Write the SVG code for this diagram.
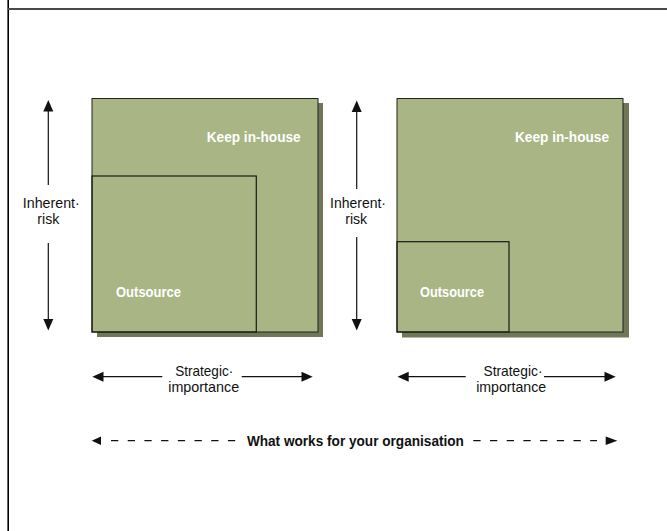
<svg xmlns="http://www.w3.org/2000/svg" width="667" height="531" viewBox="0 0 667 531">
  <defs>
    <style>
      .panel { fill: #a9b584; stroke: #222; stroke-width: 1; }
      .shadow { fill: #6f7756; }
      .zone { fill: none; stroke: #1a1a1a; stroke-width: 1.2; }
      .inlabel { font-family: "Liberation Sans", Arial, sans-serif; font-size: 15px; font-weight: bold; fill: #ffffff; }
      .axis { font-family: "Liberation Sans", Arial, sans-serif; font-size: 15px; fill: #111; text-anchor: middle; }
      .caption { font-family: "Liberation Sans", Arial, sans-serif; font-size: 15px; font-weight: bold; fill: #111; text-anchor: middle; }
      .shaft { stroke: #111; stroke-width: 1.2; fill: none; }
      .dash { stroke: #111; stroke-width: 1.2; fill: none; stroke-dasharray: 7.3 9.4; }
      .head { fill: #111; }
    </style>
  </defs>

  <!-- frame -->
  <line x1="8.2" y1="0" x2="8.2" y2="531" stroke="#000" stroke-width="1.6"/>
  <line x1="8" y1="9" x2="667" y2="9" stroke="#4a4a4a" stroke-width="2"/>

  <!-- left matrix -->
  <g id="matrix-left">
    <rect class="shadow" x="97" y="103" width="226" height="234"/>
    <rect class="panel" x="92" y="98.5" width="226" height="233.5"/>
    <text class="inlabel" x="206.7" y="142.3" textLength="94" lengthAdjust="spacingAndGlyphs">Keep in-house</text>
  </g>
  <g id="outsource-left">
    <rect class="zone" x="92" y="176" width="164.3" height="156"/>
    <text class="inlabel" x="116" y="297.3" textLength="65" lengthAdjust="spacingAndGlyphs">Outsource</text>
  </g>

  <!-- right matrix -->
  <g id="matrix-right">
    <rect class="shadow" x="402" y="103" width="227" height="234.5"/>
    <rect class="panel" x="397" y="98.5" width="226" height="233.5"/>
    <text class="inlabel" x="515" y="142.3" textLength="94" lengthAdjust="spacingAndGlyphs">Keep in-house</text>
  </g>
  <g id="outsource-right">
    <rect class="zone" x="397" y="241.7" width="112" height="90.3"/>
    <text class="inlabel" x="420" y="297.3" textLength="64" lengthAdjust="spacingAndGlyphs">Outsource</text>
  </g>

  <!-- axes and arrows -->
  <g id="connectors">
    <!-- left vertical: inherent risk -->
    <line class="shaft" x1="48.3" y1="110" x2="48.3" y2="185"/>
    <line class="shaft" x1="48.3" y1="243" x2="48.3" y2="320"/>
    <polygon class="head" points="48.3,100 43.3,111.5 53.3,111.5"/>
    <polygon class="head" points="48.3,330.5 43.3,319 53.3,319"/>

    <!-- right vertical: inherent risk -->
    <line class="shaft" x1="356.7" y1="110" x2="356.7" y2="189"/>
    <line class="shaft" x1="356.7" y1="237" x2="356.7" y2="320"/>
    <polygon class="head" points="356.7,100.5 351.7,112 361.7,112"/>
    <polygon class="head" points="356.7,330.5 351.7,319 361.7,319"/>

    <!-- left horizontal: strategic importance -->
    <line class="shaft" x1="102" y1="376.7" x2="162.3" y2="376.7"/>
    <line class="shaft" x1="241.7" y1="376.7" x2="303" y2="376.7"/>
    <polygon class="head" points="92.3,376.7 103.5,371.7 103.5,381.7"/>
    <polygon class="head" points="312.7,376.7 301.5,371.7 301.5,381.7"/>

    <!-- right horizontal: strategic importance -->
    <line class="shaft" x1="407" y1="376.7" x2="465.7" y2="376.7"/>
    <line class="shaft" x1="544" y1="376.7" x2="606" y2="376.7"/>
    <polygon class="head" points="397.5,376.7 408.7,371.7 408.7,381.7"/>
    <polygon class="head" points="615.7,376.7 604.5,371.7 604.5,381.7"/>

    <!-- bottom dashed span -->
    <line class="dash" x1="111" y1="440.7" x2="235.3" y2="440.7"/>
    <line class="dash" x1="473.3" y1="440.7" x2="597" y2="440.7"/>
    <polygon class="head" points="91.7,440.7 101,436.5 101,444.9"/>
    <polygon class="head" points="617.3,440.7 605.7,436.5 605.7,444.9"/>
  </g>

  <!-- axis labels -->
  <g id="labels">
    <text class="axis" x="51.3" y="208.3" textLength="57" lengthAdjust="spacingAndGlyphs">Inherent·</text>
    <text class="axis" x="48.3" y="224.3" textLength="22" lengthAdjust="spacingAndGlyphs">risk</text>
    <text class="axis" x="358" y="208.3" textLength="56" lengthAdjust="spacingAndGlyphs">Inherent·</text>
    <text class="axis" x="356.2" y="224.3" textLength="22" lengthAdjust="spacingAndGlyphs">risk</text>
    <text class="axis" x="204.2" y="375.7" textLength="58" lengthAdjust="spacingAndGlyphs">Strategic·</text>
    <text class="axis" x="203.7" y="391.7" textLength="71" lengthAdjust="spacingAndGlyphs">importance</text>
    <text class="axis" x="513" y="375.7" textLength="59" lengthAdjust="spacingAndGlyphs">Strategic·</text>
    <text class="axis" x="511.2" y="391.7" textLength="70" lengthAdjust="spacingAndGlyphs">importance</text>
    <text class="caption" x="355.4" y="445.8" textLength="217" lengthAdjust="spacingAndGlyphs">What works for your organisation</text>
  </g>
</svg>
